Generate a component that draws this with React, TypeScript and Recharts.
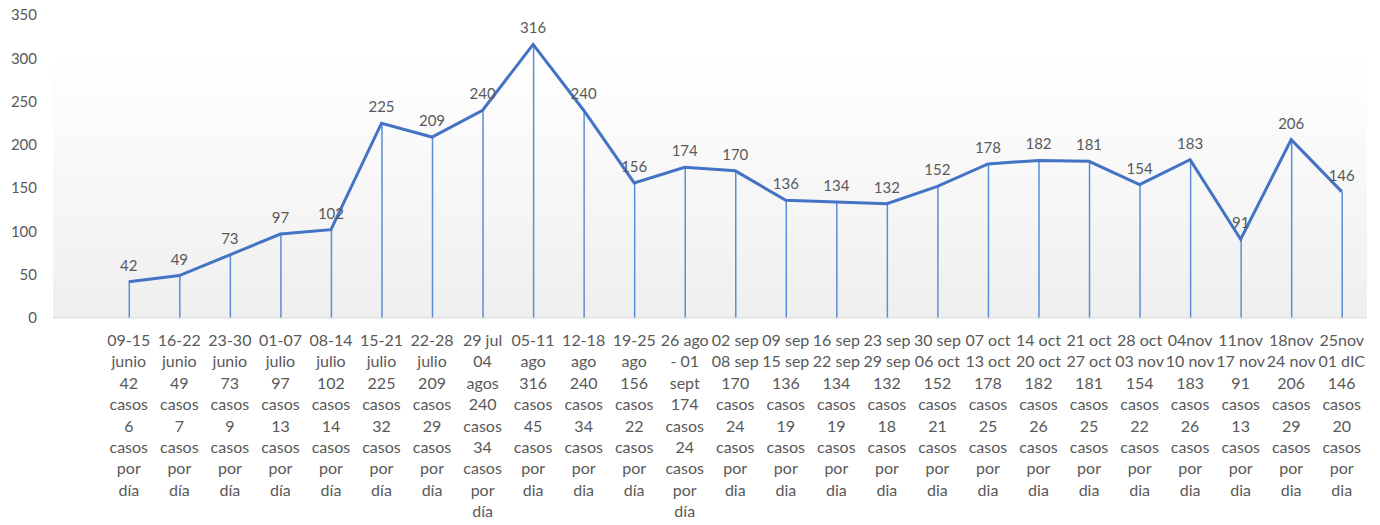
import { ComposedChart, Line, Bar, XAxis, YAxis, CartesianGrid, LabelList } from 'recharts'

// first category is left empty in the original sheet
const weeks = [
  [],
  ['09-15', 'junio'],
  ['16-22', 'junio'],
  ['23-30', 'junio'],
  ['01-07', 'julio'],
  ['08-14', 'julio'],
  ['15-21', 'julio'],
  ['22-28', 'julio'],
  ['29 jul', '04', 'agos'],
  ['05-11', 'ago'],
  ['12-18', 'ago'],
  ['19-25', 'ago'],
  ['26 ago', '- 01', 'sept'],
  ['02 sep', '08 sep'],
  ['09 sep', '15 sep'],
  ['16 sep', '22 sep'],
  ['23 sep', '29 sep'],
  ['30 sep', '06 oct'],
  ['07 oct', '13 oct'],
  ['14 oct', '20 oct'],
  ['21 oct', '27 oct'],
  ['28 oct', '03 nov'],
  ['04nov', '10 nov'],
  ['11nov', '17 nov'],
  ['18nov', '24 nov'],
  ['25nov', '01 dIC'],
]
const cases = [null, 42, 49, 73, 97, 102, 225, 209, 240, 316, 240, 156, 174, 170, 136, 134, 132, 152, 178, 182, 181, 154, 183, 91, 206, 146]
const perDay = [null, 6, 7, 9, 13, 14, 32, 29, 34, 45, 34, 22, 24, 24, 19, 19, 18, 21, 25, 26, 25, 22, 26, 13, 29, 20]
const diaWord = ['', 'día', 'día', 'día', 'día', 'día', 'día', 'día', 'día', 'dia', 'dia', 'día', 'día',
  'dia', 'dia', 'dia', 'dia', 'dia', 'dia', 'dia', 'dia', 'dia', 'dia', 'dia', 'dia', 'dia']
const yTicks = [0, 50, 100, 150, 200, 250, 300, 350]

const data = weeks.map((w, i) => ({
  key: 'c' + i,
  lines: cases[i] == null ? [] : [...w, String(cases[i]), 'casos', String(perDay[i]), 'casos', 'por', diaWord[i]],
  cases: cases[i],
}))

const FONT = 'Lato, "Open Sans", sans-serif'
const TEXT = '#595959'

function WeekTick(props: any) {
  const { x, y, payload } = props
  const row = data.find((d) => d.key === payload.value)
  if (!row || row.lines.length === 0) return null
  return (
    <text x={x} y={y} textAnchor="middle" fill={TEXT} fontSize={16} fontFamily={FONT}>
      {row.lines.map((l, i) => (
        <tspan key={i} x={x} dy={i === 0 ? 20 : 21.4}>
          {l}
        </tspan>
      ))}
    </text>
  )
}

export default function App() {
  return (
    <div style={{ position: 'absolute', left: 0, top: 0, background: '#fff' }}>
      <ComposedChart width={1380} height={525} data={data} margin={{ top: 15, right: 13, bottom: 0, left: 0 }}>
        <defs>
          <linearGradient id="plotBg" x1="0" y1="0" x2="0" y2="1">
            <stop offset="0%" stopColor="#ffffff" />
            <stop offset="12%" stopColor="#ffffff" />
            <stop offset="100%" stopColor="#efefef" />
          </linearGradient>
        </defs>
        <CartesianGrid horizontal={false} vertical={false} fill="url(#plotBg)" />
        <XAxis
          dataKey="key"
          interval={0}
          height={207}
          tickLine={false}
          axisLine={{ stroke: '#d9d9d9' }}
          tick={<WeekTick />}
        />
        <YAxis
          width={53}
          domain={[0, 350]}
          ticks={yTicks}
          axisLine={false}
          tickLine={false}
          tickMargin={10}
          tick={{ fill: TEXT, fontSize: 15, fontFamily: FONT }}
        />
        <Bar dataKey="cases" barSize={1.5} fill="#5b8ed6" isAnimationActive={false} />
        <Line
          dataKey="cases"
          stroke="#4472c4"
          strokeWidth={3}
          dot={false}
          activeDot={false}
          isAnimationActive={false}
        >
          <LabelList dataKey="cases" position="top" offset={11} fill={TEXT} fontSize={15} fontFamily={FONT} />
        </Line>
      </ComposedChart>
    </div>
  )
}
